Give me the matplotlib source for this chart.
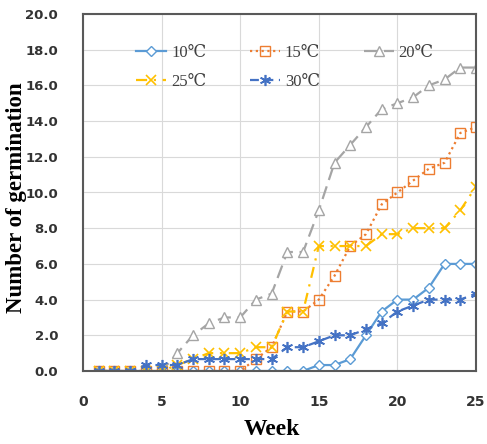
import matplotlib
matplotlib.use("Agg")
import matplotlib.pyplot as plt
from matplotlib.ticker import FormatStrFormatter

weeks = list(range(1, 26))
t = 1/3
s10 = [0,0,0,0,0,0,0,0,0,0,0,0,0,0,1*t,1*t,2*t,6*t,10*t,12*t,12*t,14*t,18*t,18*t,18*t]
s15 = [0,0,0,0,0,0,0,0,0,0,2*t,4*t,10*t,10*t,12*t,16*t,21*t,23*t,28*t,30*t,32*t,34*t,35*t,40*t,41*t]
s20 = [0,0,0,0,0,3*t,6*t,8*t,9*t,9*t,12*t,13*t,20*t,20*t,27*t,35*t,38*t,41*t,44*t,45*t,46*t,48*t,49*t,51*t,51*t]
s25 = [0,0,0,0,0,1*t,2*t,3*t,3*t,3*t,4*t,4*t,10*t,10*t,21*t,21*t,21*t,21*t,23*t,23*t,24*t,24*t,24*t,27*t,31*t]
s30 = [0,0,0,1*t,1*t,1*t,2*t,2*t,2*t,2*t,2*t,2*t,4*t,4*t,5*t,6*t,6*t,7*t,8*t,10*t,11*t,12*t,12*t,12*t,13*t]
labels = ["10℃", "15℃", "20℃", "25℃", "30℃"]
xticks = [0, 5, 10, 15, 20, 25]
yticks = [0, 2, 4, 6, 8, 10, 12, 14, 16, 18, 20]

fig = plt.figure(figsize=(4.87, 4.44), dpi=100)
ax = fig.add_axes([83/487, 1-371/444, (476-83)/487, (371-14)/444])

lw = 1.6
h10, = ax.plot(weeks, s10, color="#5B9BD5", lw=lw, ls="-", marker="D", ms=5.5,
               mfc="white", mec="#5B9BD5", mew=1.0, label=labels[0])
h15, = ax.plot(weeks, s15, color="#ED7D31", lw=lw, ls=(0, (1, 1.6)), marker="s", ms=7,
               mfc="none", mec="#ED7D31", mew=1.0, label=labels[1])
h20, = ax.plot(weeks, s20, color="#A5A5A5", lw=lw, ls=(0, (6, 3)), marker="^", ms=7,
               mfc="white", mec="#A5A5A5", mew=1.0, label=labels[2])
h25, = ax.plot(weeks, s25, color="#FFC000", lw=lw, ls=(0, (5, 3, 1, 3)), marker="x", ms=6.5,
               mec="#FFC000", mew=1.2, label=labels[3])
h30, = ax.plot(weeks, s30, color="#4472C4", lw=lw, ls=(0, (4, 2.5)), marker=(6, 2, 0), ms=8,
               mec="#4472C4", mew=1.2, label=labels[4])

ax.set_xlim(0, 25)
ax.set_ylim(0, 20)
ax.set_xticks(xticks)
ax.set_yticks(yticks)
ax.yaxis.set_major_formatter(FormatStrFormatter("%.1f"))
ax.grid(True, color="#D9D9D9", lw=0.8)
ax.set_axisbelow(True)
for sp in ax.spines.values():
    sp.set_color("#595959")
    sp.set_linewidth(1.5)
ax.tick_params(length=0)
ax.tick_params(axis="x", pad=17)
ax.tick_params(axis="y", pad=18)
for lab in ax.get_xticklabels():
    lab.set_fontfamily("DejaVu Sans")
    lab.set_fontweight("bold")
    lab.set_fontsize(10)
    lab.set_color("#333333")
for lab in ax.get_yticklabels():
    lab.set_fontfamily("DejaVu Sans")
    lab.set_fontweight("bold")
    lab.set_fontsize(9.5)
    lab.set_color("#333333")

serif = ["Liberation Serif", "DejaVu Serif"]
ax.set_xlabel("Week", fontfamily=serif, fontweight="bold", fontsize=17)
ax.xaxis.set_label_coords((272-83)/393, -(419-371)/357)
ax.set_ylabel("Number of germination", fontfamily=serif, fontweight="bold", fontsize=16.5)
ax.yaxis.set_label_coords(-(83-27)/393, (371-198)/357)

leg = ax.legend([h10, h25, h15, h30, h20], [labels[0], labels[3], labels[1], labels[4], labels[2]],
                ncol=3, loc="upper center", bbox_to_anchor=((285-83)/393, 0.955), frameon=False,
                prop={"family": serif, "size": 12},
                handlelength=1.8, columnspacing=2.6, handletextpad=0.3, labelspacing=0.75,
                labelcolor="#404040")

fig.savefig("out.png", dpi=100)
